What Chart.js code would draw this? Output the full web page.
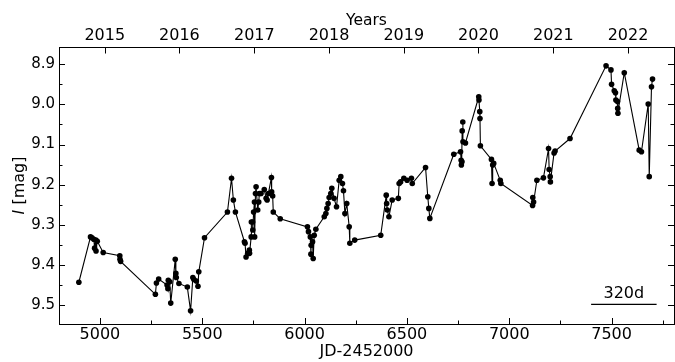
<!DOCTYPE html>
<html>
<head>
<meta charset="utf-8">
<script src="https://cdn.jsdelivr.net/npm/chart.js@4"></script>
<style>
html,body{margin:0;padding:0;background:#fff;overflow:hidden;width:675px;height:362px;}
#wrap{width:678px;height:362px;}
</style>
</head>
<body>
<div id="wrap"><canvas id="c" width="678" height="362" style="width:678px;height:362px"></canvas></div>
<script>
// ---- data ----
const jd = [4897,4954,4961,4970,4974,4980,4981,4987,5016,5097,
5098,5101,5271,5276,5287,5328,5332,5334,5341,5346,
5368,5371,5373,5386,5427,5443,5454,5459,5471,5479,
5483,5511,5623,5643,5652,5662,5706,5709,5714,5722,
5730,5731,5739,5740,5746,5747,5751,5755,5756,5760,
5763,5771,5776,5779,5787,5803,5812,5817,5823,5838,
5839,5844,5847,5881,6014,6019,6028,6031,6032,6039,
6042,6047,6055,6096,6104,6109,6115,6120,6128,6133,
6144,6156,6169,6177,6185,6190,6197,6206,6218,6221,
6245,6372,6399,6401,6404,6412,6428,6458,6462,6469,
6485,6501,6522,6526,6591,6602,6607,6612,6729,6762,
6765,6766,6769,6770,6773,6774,6786,6851,6852,6856,
6857,6859,6913,6916,6919,6924,6956,6959,7114,7115,
7119,7135,7167,7192,7195,7200,7201,7219,7224,7297,
7473,7497,7500,7513,7519,7521,7529,7530,7531,7562,
7635,7646,7679,7684,7695,7700];
const mag = [9.443,9.330,9.332,9.336,9.358,9.338,9.365,9.341,9.369,9.377,
9.386,9.391,9.473,9.445,9.435,9.450,9.459,9.438,9.442,9.495,
9.386,9.421,9.431,9.446,9.455,9.514,9.431,9.436,9.440,9.453,
9.417,9.332,9.268,9.184,9.238,9.268,9.342,9.346,9.380,9.371,
9.363,9.371,9.330,9.293,9.293,9.313,9.268,9.243,9.330,9.222,
9.205,9.263,9.243,9.222,9.222,9.212,9.234,9.238,9.222,9.182,
9.218,9.228,9.268,9.285,9.305,9.317,9.330,9.373,9.351,9.342,
9.384,9.326,9.311,9.280,9.272,9.259,9.247,9.232,9.222,9.209,
9.234,9.255,9.189,9.180,9.197,9.215,9.272,9.247,9.305,9.346,
9.338,9.326,9.226,9.247,9.263,9.280,9.238,9.234,9.197,9.193,
9.184,9.189,9.184,9.197,9.157,9.230,9.259,9.284,9.124,9.118,
9.139,9.151,9.143,9.066,9.044,9.093,9.096,8.981,8.989,9.018,
9.035,9.103,9.137,9.197,9.151,9.147,9.189,9.197,9.252,9.232,
9.243,9.189,9.183,9.110,9.162,9.180,9.193,9.121,9.116,9.085,
8.904,8.914,8.950,8.966,8.971,8.989,8.993,9.010,9.022,8.921,
9.114,9.118,8.999,9.180,8.956,8.937];

const xMajorTicks = [5000,5500,6000,6500,7000,7500];
const xMinorTicks = [5250,5750,6250,6750,7250,7750];
const yMajorTicks = [8.9,9.0,9.1,9.2,9.3,9.4,9.5];
const yMinorTicks = [8.95,9.05,9.15,9.25,9.35,9.45];
const yearLabels = ['2015','2016','2017','2018','2019','2020','2021','2022'];
const yearJD = [5023.5,5388.5,5754.5,6119.5,6484.5,6849.5,7215.5,7580.5];

const scaleBarJD = [7400,7720];
const scaleBarMag = [9.498,9.498];
const scaleBarLabel = '320d';

const xRange = [4800,7805];
const yRange = [8.857,9.547];

const FONT = '"DejaVu Sans", sans-serif';

const tickPlugin = {
  id:'inTicks',
  afterDraw(chart){
    const ctx = chart.ctx;
    const {left,right,top,bottom} = chart.chartArea;
    const xs = chart.scales.x, ys = chart.scales.y;
    ctx.save();
    ctx.strokeStyle = '#000';
    ctx.lineWidth = 1;
    const seg=(x1,y1,x2,y2)=>{ctx.beginPath();ctx.moveTo(x1,y1);ctx.lineTo(x2,y2);ctx.stroke();};
    xMajorTicks.forEach(v=>{const p=Math.round(xs.getPixelForValue(v))+0.5; seg(p,bottom,p,bottom-6);});
    xMinorTicks.forEach(v=>{const p=Math.round(xs.getPixelForValue(v))+0.5; seg(p,bottom,p,bottom-3.5);});
    yearJD.forEach(v=>{const p=Math.round(xs.getPixelForValue(v))+0.5; seg(p,top,p,top+6.5);});
    yMajorTicks.forEach(v=>{const p=Math.round(ys.getPixelForValue(v))+0.5; seg(left,p,left+6,p); seg(right,p,right-6,p);});
    yMinorTicks.forEach(v=>{const p=Math.round(ys.getPixelForValue(v))+0.5; seg(left,p,left+3.5,p); seg(right,p,right-3.5,p);});
    // scale bar label
    ctx.fillStyle='#000';
    ctx.font = '16px '+FONT;
    ctx.textAlign='center';
    ctx.textBaseline='alphabetic';
    const cx = xs.getPixelForValue((scaleBarJD[0]+scaleBarJD[1])/2);
    const cy = ys.getPixelForValue(scaleBarMag[0]);
    ctx.fillText(scaleBarLabel, cx, cy-6);
    // y axis title with italic I
    ctx.translate(19.5,(top+bottom)/2);
    ctx.rotate(-Math.PI/2);
    ctx.textBaseline='middle';
    ctx.textAlign='left';
    ctx.font='italic 16px '+FONT;
    const w1 = ctx.measureText('I').width;
    ctx.font='16px '+FONT;
    const w2 = ctx.measureText(' [mag]').width;
    const start = -(w1+w2)/2;
    ctx.font='italic 16px '+FONT;
    ctx.fillText('I', start, 0);
    ctx.font='16px '+FONT;
    ctx.fillText(' [mag]', start+w1, 0);
    ctx.restore();
  }
};

const points = jd.map((v,i)=>({x:v, y:mag[i]}));
const bar = scaleBarJD.map((v,i)=>({x:v, y:scaleBarMag[i]}));

new Chart(document.getElementById('c'), {
  type:'line',
  data:{datasets:[
    {data:points, borderColor:'#000', borderWidth:1.1, pointRadius:2.8, pointBackgroundColor:'#000', pointBorderColor:'#000', pointBorderWidth:0, tension:0, fill:false, clip:false},
    {data:bar, borderColor:'#000', borderWidth:1.2, pointRadius:0, fill:false}
  ]},
  options:{
    responsive:false,
    devicePixelRatio:1,
    animation:false,
    events:[],
    layout:{padding:{left:0,right:2,top:0,bottom:0}},
    plugins:{legend:{display:false}, tooltip:{enabled:false}},
    scales:{
      x:{type:'linear', position:'bottom', min:xRange[0], max:xRange[1],
        afterBuildTicks:s=>{s.ticks = xMajorTicks.map(v=>({value:v}));},
        afterFit:s=>{s.height=38;},
        grid:{display:false, drawTicks:false},
        border:{display:true,color:'#000',width:1},
        ticks:{autoSkip:false,maxRotation:0,padding:1,color:'#000',font:{family:FONT,size:16},callback:v=>String(v)},
        title:{display:true,text:'JD-2452000',color:'#000',font:{family:FONT,size:16},padding:{top:0,bottom:0.5}}
      },
      x2:{type:'linear', axis:'x', position:'top', min:xRange[0], max:xRange[1],
        afterBuildTicks:s=>{s.ticks = yearJD.map(v=>({value:v}));},
        afterFit:s=>{s.height=47;},
        grid:{display:false, drawTicks:false},
        border:{display:true,color:'#000',width:1},
        ticks:{autoSkip:false,maxRotation:0,padding:2,color:'#000',font:{family:FONT,size:16},callback:(v,i)=>yearLabels[i]},
        title:{display:true,text:'Years',color:'#000',font:{family:FONT,size:15.5},padding:{top:11.5,bottom:0}}
      },
      y:{type:'linear', position:'left', reverse:true, min:yRange[0], max:yRange[1],
        afterBuildTicks:s=>{s.ticks = yMajorTicks.map(v=>({value:v}));},
        afterFit:s=>{s.width=59;},
        grid:{display:false, drawTicks:false},
        border:{display:true,color:'#000',width:1},
        ticks:{autoSkip:false,padding:4,color:'#000',font:{family:FONT,size:15},callback:v=>v.toFixed(1)}
      },
      y2:{type:'linear', axis:'y', position:'right', reverse:true, min:yRange[0], max:yRange[1],
        afterFit:s=>{s.width=0;},
        grid:{display:false, drawTicks:false},
        border:{display:true,color:'#000',width:1},
        ticks:{display:false}
      }
    }
  },
  plugins:[tickPlugin]
});
</script>
</body>
</html>
